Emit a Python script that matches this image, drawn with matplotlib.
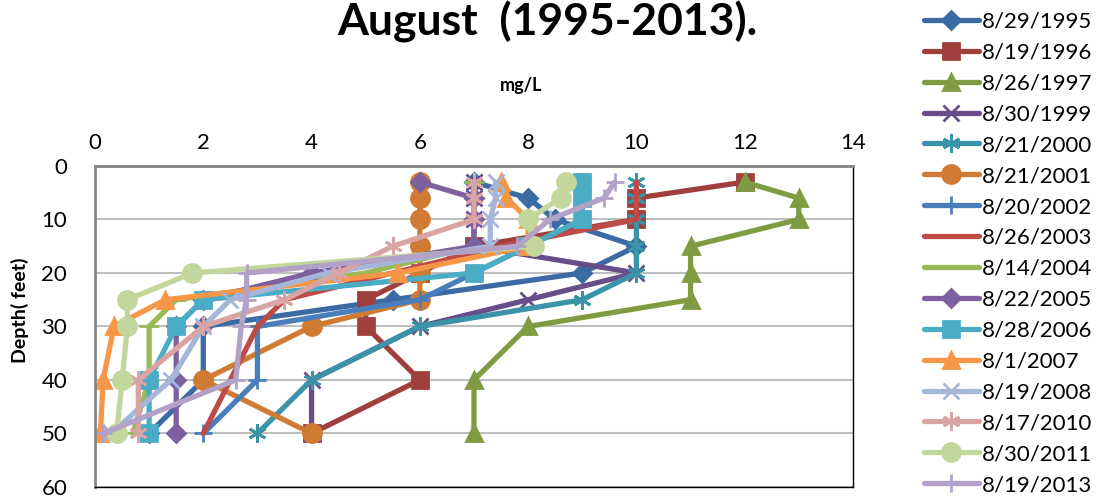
import numpy as np
import matplotlib
matplotlib.use("Agg")
import matplotlib.pyplot as plt

plt.rcParams['font.family'] = ['Lato', 'DejaVu Sans']

# depth of each reading (feet)
depths = [3, 6, 10, 15, 20, 25, 30, 40, 50]

# dissolved oxygen, mg/L, one list per sampling date
labels = ["8/29/1995", "8/19/1996", "8/26/1997", "8/30/1999", "8/21/2000",
          "8/21/2001", "8/20/2002", "8/26/2003", "8/14/2004", "8/22/2005",
          "8/28/2006", "8/1/2007", "8/19/2008", "8/17/2010", "8/30/2011",
          "8/19/2013"]
do_1995 = [7.0, 8.0, 8.5, 10.0, 9.0, 5.5, 2.0, 2.0, 1.0]
do_1996 = [12.0, 10.0, 10.0, 7.0, 6.0, 5.0, 5.0, 6.0, 4.0]
do_1997 = [12.0, 13.0, 13.0, 11.0, 11.0, 11.0, 8.0, 7.0, 7.0]
do_1999 = [7.0, 7.0, 7.0, 7.0, 10.0, 8.0, 6.0, 4.0, 4.0]
do_2000 = [10.0, 10.0, 10.0, 10.0, 10.0, 9.0, 6.0, 4.0, 3.0]
do_2001 = [6.0, 6.0, 6.0, 6.0, 6.0, 6.0, 4.0, 2.0, 4.0]
do_2002 = [9.0, 9.0, 9.0, 8.0, 7.0, 6.0, 3.0, 3.0, 2.0]
do_2003 = [10.0, 10.0, 10.0, 7.5, 5.5, 3.5, 3.0, 2.5, 2.0]
do_2004 = [7.0, 7.0, 7.0, 7.0, 5.0, 1.5, 1.0, 1.0, 0.7]
do_2005 = [6.0, 7.0, 7.0, 7.0, 4.0, 2.0, 1.5, 1.5, 1.5]
do_2006 = [9.0, 9.0, 9.0, 8.0, 7.0, 2.0, 1.5, 1.0, 1.0]
do_2007 = [7.5, 7.6, 8.0, 8.0, 5.6, 1.3, 0.35, 0.15, 0.1]
do_2008 = [7.4, 7.4, 7.3, 7.3, 4.3, 2.5, 2.0, 1.4, 0.3]
do_2010 = [7.0, 7.0, 7.0, 5.5, 4.5, 3.5, 2.0, 0.8, 0.8]
do_2011 = [8.7, 8.6, 8.0, 8.1, 1.8, 0.6, 0.6, 0.5, 0.4]
do_2013 = [9.6, 9.4, 8.4, 7.8, 2.8, 2.8, 2.7, 2.6, 0.15]

series = [do_1995, do_1996, do_1997, do_1999, do_2000, do_2001, do_2002, do_2003,
          do_2004, do_2005, do_2006, do_2007, do_2008, do_2010, do_2011, do_2013]

colors = ["#3C6AA3", "#A0403D", "#7F9C43", "#674D8A", "#3A93A9", "#D07B33",
          "#4A7EBB", "#BE4B48", "#98B954", "#7D60A0", "#4BACC6", "#F79646",
          "#A5B6D8", "#D9A5A4", "#C3D69B", "#B3A2C7"]
asterisk = (6, 2, 0)
markers = ["D", "s", "^", "x", asterisk, "o", "+", "None", "_", "D", "s", "^",
           "x", asterisk, "o", "+"]
msizes = [9, 11, 11, 12, 13, 13, 13, 0, 14, 9, 11, 11, 12, 13, 13, 13]

fig = plt.figure(figsize=(11.06, 5.01), dpi=100)
ax = fig.add_axes([0.0859, 0.028, 0.6853, 0.6407])

for vals, lab, c, m, ms in zip(series, labels, colors, markers, msizes):
    ax.plot(vals, depths, color=c, lw=3.8, marker=m, markersize=ms,
            markerfacecolor=c, markeredgecolor=c, markeredgewidth=2,
            solid_capstyle="round", label=lab)

ax.set_xlim(0, 14)
ax.set_ylim(60, 0)
ax.set_xticks(np.arange(0, 15, 2))
ax.set_yticks(np.arange(0, 61, 10))
ax.xaxis.tick_top()
ax.tick_params(axis="both", length=0, labelsize=16, pad=9)
ax.tick_params(axis="y", pad=20)
ax.grid(axis="y", color="#BFBFBF", lw=1.5)
ax.set_axisbelow(True)
for s in ["top", "left"]:
    ax.spines[s].set_color("#868686")
    ax.spines[s].set_linewidth(2)
ax.spines["right"].set_color("black")
ax.spines["right"].set_linewidth(1)
ax.spines["bottom"].set_color("black")
ax.spines["bottom"].set_linewidth(1)

fig.text(0.495, 0.93, "August  (1995-2013).", ha="center", va="baseline",
         fontsize=32, fontweight="bold")
fig.text(0.471, 0.83, "mg/L", ha="center", va="center", fontsize=13,
         fontweight="bold")
fig.text(0.018, 0.38, "Depth( feet)", ha="center", va="center", rotation=90,
         fontsize=14, fontweight="bold")

fig.legend(loc="upper left", bbox_to_anchor=(0.829, 0.99), frameon=False,
           fontsize=16, handlelength=2.5, handletextpad=0.12,
           labelspacing=0.49, borderaxespad=0.0, borderpad=0.3)

fig.savefig("out.png", dpi=100)
